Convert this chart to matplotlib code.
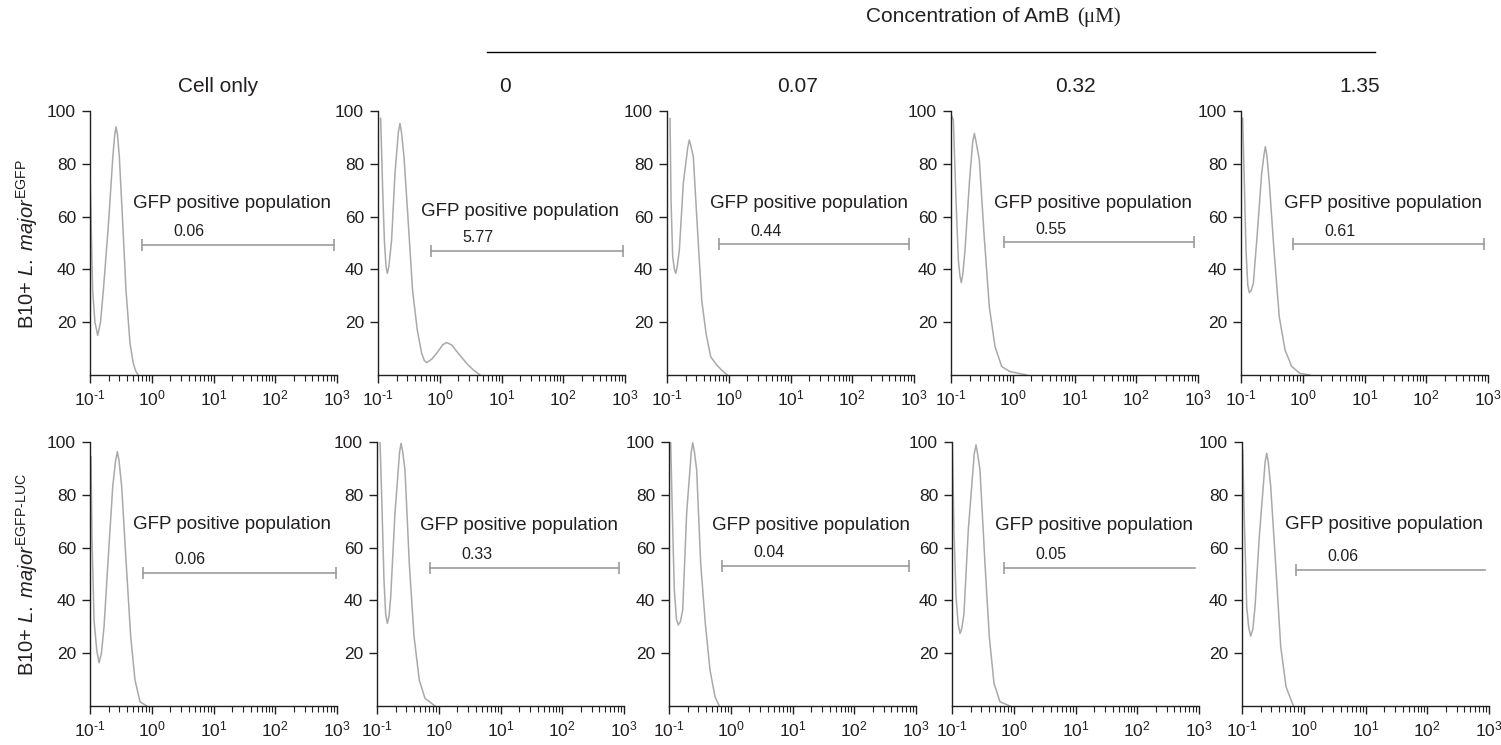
import numpy as np
import matplotlib
matplotlib.use('Agg')
import matplotlib.pyplot as plt
from matplotlib.ticker import FixedLocator, FixedFormatter, LogLocator, NullFormatter

plt.rcParams['font.family'] = ['Liberation Sans', 'DejaVu Sans']
plt.rcParams['mathtext.fontset'] = 'custom'
plt.rcParams['mathtext.rm'] = 'Liberation Sans'
plt.rcParams['mathtext.it'] = 'Liberation Sans:italic'
plt.rcParams['mathtext.bf'] = 'Liberation Sans:bold'
plt.rcParams['axes.unicode_minus'] = False

# column headers
col_heads = ['Cell only', '0', '0.07', '0.32', '1.35']
row_labels = [r'B10+ $\mathit{L.\ major}^{\mathrm{EGFP}}$',
              r'B10+ $\mathit{L.\ major}^{\mathrm{EGFP\text{-}LUC}}$']
xtick_vals = [0.1, 1, 10, 100, 1000]
xtick_labels = [r'$10^{\text{-}1}$', r'$10^{0}$', r'$10^{1}$', r'$10^{2}$', r'$10^{3}$']

# histograms: log10(fluorescence), % of max
egfp_cell_lx = [-1.0, -0.975, -0.957, -0.92, -0.875, -0.83, -0.784, -0.70, -0.63, -0.60, -0.579, -0.555,
                -0.525, -0.47, -0.417, -0.352, -0.30, -0.26, -0.22]
egfp_cell_y = [77.7, 50, 32, 20, 15, 20, 32, 57.5, 82.7, 91, 94, 91, 82.7, 57.5, 32, 12, 4.5, 1.5, 0]
egfp_0_lx = [-0.957, -0.924, -0.897, -0.87, -0.849, -0.825, -0.78, -0.725, -0.67, -0.644, -0.62, -0.579,
             -0.509, -0.44, -0.364, -0.293, -0.25, -0.212, -0.13, -0.05, 0.05, 0.112, 0.193, 0.30, 0.436,
             0.544, 0.652]
egfp_0_y = [97.2, 70, 51, 41, 38.5, 41, 51, 76.4, 92, 95.3, 92, 82.7, 57.5, 32, 17, 8.2, 5.5, 4.7, 6, 8.2,
            11.5, 12.3, 11.4, 8.2, 4.4, 1.9, 0]
egfp_007_lx = [-0.951, -0.935, -0.908, -0.88, -0.859, -0.835, -0.80, -0.736, -0.665, -0.639, -0.61, -0.574,
               -0.509, -0.438, -0.368, -0.292, -0.195, -0.10, -0.023]
egfp_007_y = [97.2, 66.3, 44.8, 40, 38.5, 41, 47.3, 72.6, 86, 89, 86.5, 82.7, 56.2, 28.4, 15.8, 6.9, 3.8, 1.5, 0]
egfp_032_lx = [-0.989, -0.962, -0.919, -0.881, -0.855, -0.833, -0.81, -0.773, -0.703, -0.65, -0.622, -0.595,
               -0.541, -0.466, -0.38, -0.287, -0.179, -0.045, 0.225]
egfp_032_y = [98.1, 96.6, 66.3, 43.6, 37.5, 35, 38, 47.3, 72.6, 88, 91.5, 88.5, 81.4, 53.7, 25.9, 10.7, 3.2, 1.3, 0]
egfp_135_lx = [-0.973, -0.946, -0.919, -0.89, -0.865, -0.835, -0.80, -0.736, -0.665, -0.63, -0.606, -0.58,
               -0.541, -0.466, -0.38, -0.287, -0.179, -0.045, 0.117]
egfp_135_y = [97.2, 72.6, 47.3, 34, 31.2, 32, 34.7, 53.7, 76.4, 83, 86.5, 83, 72.6, 47.3, 22, 9.5, 3.2, 0.6, 0]

luc_cell_lx = [-0.984, -0.968, -0.935, -0.89, -0.854, -0.815, -0.773, -0.70, -0.632, -0.585, -0.557, -0.53,
               -0.487, -0.417, -0.341, -0.271, -0.19, -0.082]
luc_cell_y = [94.4, 64.1, 32.6, 21, 16.4, 20, 30, 57.8, 83.1, 93, 96.3, 93, 83.1, 55.3, 26.3, 9.8, 1.6, 0]
luc_0_lx = [-0.951, -0.924, -0.887, -0.86, -0.833, -0.805, -0.778, -0.709, -0.635, -0.611, -0.585, -0.547,
            -0.477, -0.40, -0.315, -0.223, -0.06]
luc_0_y = [100, 79.3, 47.7, 35, 31.3, 34, 41.4, 73, 96, 99.5, 96.5, 89.4, 54, 26.3, 9.8, 2.9, 0]
luc_007_lx = [-0.973, -0.946, -0.914, -0.88, -0.849, -0.815, -0.778, -0.714, -0.64, -0.616, -0.59, -0.552,
              -0.487, -0.412, -0.336, -0.255, -0.185]
luc_007_y = [100, 73, 44, 33, 30.7, 32, 36.4, 73, 96, 99.7, 96.5, 89.4, 54, 31.3, 13.6, 3.5, 0]
luc_032_lx = [-0.995, -0.968, -0.935, -0.90, -0.87, -0.84, -0.806, -0.736, -0.64, -0.611, -0.585, -0.547,
              -0.466, -0.396, -0.32, -0.223, -0.061]
luc_032_y = [99.5, 66.7, 41.4, 31, 27.5, 29.5, 35.1, 66.7, 95.5, 98.9, 95.5, 89.4, 54, 26.3, 8.6, 1.6, 0]
luc_135_lx = [-0.989, -0.962, -0.924, -0.89, -0.859, -0.825, -0.789, -0.72, -0.625, -0.60, -0.575, -0.535,
              -0.449, -0.373, -0.287, -0.168]
luc_135_y = [97, 70.5, 37.6, 29.5, 26.5, 29, 37.6, 64.1, 92.5, 95.7, 92.5, 83.1, 51.5, 22.5, 7.3, 0]

curves_lx = [[egfp_cell_lx, egfp_0_lx, egfp_007_lx, egfp_032_lx, egfp_135_lx],
             [luc_cell_lx, luc_0_lx, luc_007_lx, luc_032_lx, luc_135_lx]]
curves_y = [[egfp_cell_y, egfp_0_y, egfp_007_y, egfp_032_y, egfp_135_y],
            [luc_cell_y, luc_0_y, luc_007_y, luc_032_y, luc_135_y]]

# GFP positive gate: log10 left, log10 right, height, percentage
gate_left = [[-0.158, -0.142, -0.158, -0.137, -0.15], [-0.136, -0.14, -0.137, -0.158, -0.13]]
gate_right = [[2.95, 2.97, 2.92, 2.94, 2.93], [2.99, 2.92, 2.88, 2.94, 2.93]]
gate_y = [[49.4, 47, 49.5, 50.2, 49.5], [50.5, 52.2, 53, 52.4, 51.5]]
gate_pct = [['0.06', '5.77', '0.44', '0.55', '0.61'], ['0.06', '0.33', '0.04', '0.05', '0.06']]
gate_cap_right = [[True] * 5, [True, True, True, False, False]]
title_y = [[65, 61.9, 65, 65, 65], [68.6, 68.2, 68.2, 68.2, 68.6]]

W, H = 1501, 745
fig = plt.figure(figsize=(W / 100, H / 100), dpi=100)

lefts = [[90, 378, 667, 951, 1241], [90, 377, 669, 952, 1242]]
bottoms = [375, 706]
aw, ah = 247, 264
curve_col = '#a9a9a9'
gate_col = '#9c9c9c'
txt_col = '#231f20'

for r in range(2):
    for c in range(5):
        ax = fig.add_axes([lefts[r][c] / W, 1 - bottoms[r] / H, aw / W, ah / H])
        lx = np.array(curves_lx[r][c])
        ax.plot(10 ** lx, curves_y[r][c], color=curve_col, lw=1.1)
        ax.set_xscale('log')
        ax.set_xlim(0.1, 1000)
        ax.set_ylim(0, 100)
        ax.set_yticks([20, 40, 60, 80, 100])
        ax.xaxis.set_major_locator(FixedLocator(xtick_vals))
        ax.xaxis.set_major_formatter(FixedFormatter(xtick_labels))
        ax.xaxis.set_minor_locator(LogLocator(base=10, subs=np.arange(2, 10), numticks=20))
        ax.xaxis.set_minor_formatter(NullFormatter())
        for s in ['top', 'right']:
            ax.spines[s].set_visible(False)
        for s in ['left', 'bottom']:
            ax.spines[s].set_linewidth(1.0)
            ax.spines[s].set_color(txt_col)
        ax.tick_params(which='major', length=6, width=1.0, labelsize=12.5, pad=4,
                       color=txt_col, labelcolor=txt_col)
        ax.tick_params(which='minor', length=4, width=0.8, color=txt_col)
        # gate
        x0 = 10 ** gate_left[r][c]
        x1 = 10 ** gate_right[r][c]
        gy = gate_y[r][c]
        ax.plot([x0, x1], [gy, gy], color=gate_col, lw=1.2)
        ax.plot([x0], [gy], marker='|', ms=8, mew=1.2, color=gate_col)
        if gate_cap_right[r][c]:
            ax.plot([x1], [gy], marker='|', ms=8, mew=1.2, color=gate_col)
        ax.text(10 ** (gate_left[r][c] + 0.76), gy + 5, gate_pct[r][c], ha='center', va='center',
                fontsize=11.5, color=txt_col)
        ax.text(10 ** 1.3, title_y[r][c], 'GFP positive population', ha='center', va='center',
                fontsize=13.5, color=txt_col)

# headers
head_x = [218, 505, 798, 1075, 1360]
for hx, txt in zip(head_x, col_heads):
    fig.text(hx / W, 1 - 86 / H, txt, ha='center', va='center', fontsize=15, color=txt_col)

fig.text(1075 / W, 1 - 17 / H, 'Concentration of AmB ', ha='right', va='center', fontsize=15, color=txt_col)
fig.text(1077 / W, 1 - 17 / H, '(\u03bcM)', ha='left', va='center', fontsize=15, color=txt_col,
         family='Liberation Serif')
fig.add_artist(plt.Line2D([487 / W, 1375 / W], [1 - 52 / H, 1 - 52 / H], color='black', lw=1.0))

for yy, lab in zip([244, 575], row_labels):
    fig.text(27 / W, 1 - yy / H, lab, rotation=90, ha='center', va='center', fontsize=14.5, color=txt_col)

fig.savefig('out.png', dpi=100)
